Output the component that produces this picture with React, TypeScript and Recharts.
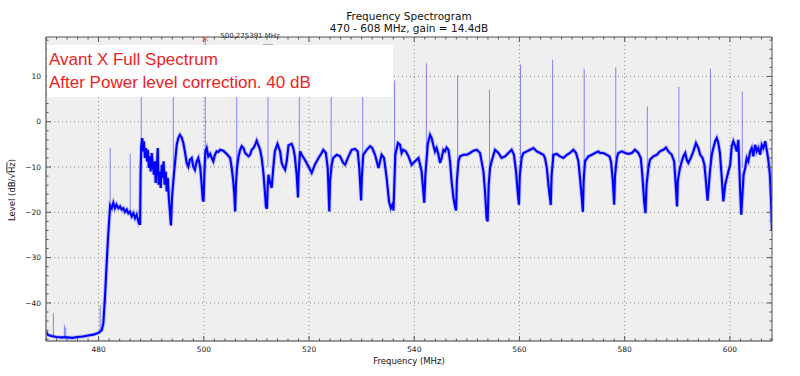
import React from 'react';
import { LineChart, Line, XAxis, YAxis, CartesianGrid, ReferenceDot } from 'recharts';

// ---- Spectrum trace, [MHz, dB] ----
const floorSegment: [number, number][] = [
  [470.0, -46.2], [470.3, -47.0], [471.0, -47.3], [471.5, -47.4], [472.0, -47.5], [473.0, -47.6], [474.0, -47.6],
  [475.0, -47.7], [476.0, -47.5], [477.0, -47.4], [478.0, -47.2], [479.0, -47.0], [480.0, -46.6], [480.6, -46.0],
  [480.9, -44.5], [481.2, -39.0], [481.5, -32.0], [481.8, -25.5], [482.05, -21.0], [482.2, -18.5],
];
const lowChannel: [number, number][] = [
  [482.5, -19.1], [482.8, -17.9], [483.1, -19.1], [483.4, -18.3], [483.76, -19.1], [484.07, -18.7], [484.39, -19.4],
  [484.7, -19.1], [485.0, -19.9], [485.34, -19.4], [485.66, -20.2], [485.97, -19.9], [486.29, -20.9], [486.6, -20.2],
  [486.92, -21.3], [487.24, -20.5], [487.56, -22.0], [487.75, -21.3], [487.88, -22.8], [487.98, -11.7],
];
const ch488: [number, number][] = [
  [488.1, -5.5], [488.3, -3.6], [488.45, -6.55], [488.6, -4.3], [488.8, -8.0], [489.0, -5.8], [489.2, -8.75],
  [489.35, -6.2], [489.55, -10.2], [489.75, -7.65], [489.9, -11.0], [490.1, -6.9], [490.3, -9.5], [490.5, -11.7],
  [490.7, -8.75], [490.85, -13.5], [491.05, -10.2], [491.25, -5.8], [491.4, -13.9], [491.6, -11.0], [491.8, -14.6],
  [492.0, -9.5], [492.2, -12.4], [492.35, -8.75], [492.55, -13.9], [492.75, -11.0], [492.95, -15.4], [493.15, -12.4],
  [493.35, -16.8], [493.55, -19.8], [493.75, -22.9], [493.95, -16.8],
];
const ch494: [number, number][] = [
  [494.3, -11.7], [494.55, -8.75], [494.85, -5.1], [495.15, -3.6], [495.45, -2.9], [495.8, -3.5], [496.1, -4.7],
  [496.4, -6.55], [496.75, -9.1], [497.05, -9.9], [497.35, -8.4], [497.7, -8.0], [498.0, -9.9], [498.3, -10.6],
  [498.65, -8.75], [498.95, -8.0], [499.3, -9.9], [499.6, -13.9], [499.8, -17.2], [499.95, -17.6], [500.1, -11.7],
];
const ch500: [number, number][] = [
  [500.3, -6.55], [500.55, -5.8], [500.85, -7.65], [501.2, -7.1], [501.5, -8.0], [501.8, -8.75], [502.1, -7.3],
  [502.45, -6.55], [502.75, -6.7], [503.1, -6.2], [503.7, -6.4], [504.35, -7.1], [505.0, -8.0], [505.3, -10.2],
  [505.6, -13.2], [505.8, -16.1], [505.95, -19.8], [506.1, -13.9],
];
const ch506: [number, number][] = [
  [506.3, -10.2], [506.6, -7.65], [506.9, -6.2], [507.2, -5.4], [507.55, -5.8], [507.85, -6.9], [508.2, -7.3],
  [508.5, -7.65], [508.8, -7.3], [509.1, -6.2], [509.45, -5.8], [509.75, -5.1], [510.05, -4.2], [510.35, -5.1],
  [510.7, -6.2], [511.0, -8.0], [511.3, -11.0], [511.6, -15.4], [511.8, -18.7], [512.0, -19.2], [512.15, -14.0],
];
const ch512: [number, number][] = [
  [512.3, -11.7], [512.6, -13.5], [512.9, -14.6], [513.2, -10.2], [513.5, -6.55], [514.0, -4.9], [514.5, -6.55],
  [514.8, -9.1], [515.1, -9.9], [515.45, -10.6], [515.75, -8.75], [516.1, -5.2], [516.7, -4.9], [517.0, -5.8],
  [517.3, -7.65], [517.65, -11.7], [517.9, -16.7], [518.0, -11.7],
];
const ch518: [number, number][] = [
  [518.3, -6.55], [518.6, -7.3], [519.2, -8.4], [519.9, -9.9], [520.5, -11.3], [521.1, -9.5], [521.8, -8.0],
  [522.4, -6.9], [522.7, -6.2], [523.2, -6.9], [523.55, -10.2], [523.85, -19.8], [524.0, -13.0],
];
const ch524: [number, number][] = [
  [524.3, -9.5], [524.6, -8.0], [525.25, -7.3], [525.9, -7.65], [526.5, -9.1], [526.85, -9.5], [527.5, -7.65],
  [528.1, -6.2], [528.75, -6.0], [529.25, -6.55], [529.55, -10.2], [529.9, -17.4], [530.05, -12.0],
];
const ch530: [number, number][] = [
  [530.3, -7.3], [530.95, -6.2], [531.6, -5.4], [532.0, -5.8], [532.55, -7.3], [533.2, -10.2], [533.5, -8.75],
  [533.8, -7.3], [534.25, -8.0], [534.75, -12.4], [535.2, -17.6], [535.55, -19.1], [535.9, -18.2], [536.05, -19.6],
];
const ch536: [number, number][] = [
  [536.4, -7.3], [536.9, -4.7], [537.3, -5.1], [537.6, -6.9], [537.9, -6.2], [538.4, -6.55], [538.9, -7.65],
  [539.5, -9.5], [540.15, -8.75], [540.8, -8.0], [541.1, -9.5], [541.4, -11.0], [541.9, -17.9], [542.1, -12.0],
];
const ch542: [number, number][] = [
  [542.55, -5.1], [543.0, -2.9], [543.3, -3.6], [543.6, -5.1], [543.95, -6.55], [544.25, -5.8], [544.6, -7.3],
  [544.9, -9.1], [545.2, -8.0], [545.55, -6.2], [545.85, -6.55], [546.15, -5.7], [546.5, -6.2], [546.8, -8.75],
  [547.1, -13.2], [547.45, -16.8], [547.75, -18.7], [547.95, -19.6], [548.1, -13.0],
];
const ch548: [number, number][] = [
  [548.4, -8.75], [548.7, -7.65], [549.35, -7.3], [550.0, -7.3], [550.6, -6.9], [551.25, -6.4], [551.9, -6.2],
  [552.5, -6.9], [552.8, -8.75], [553.15, -11.0], [553.45, -15.4], [553.75, -21.3], [553.95, -22.0], [554.15, -14.0],
];
const ch554: [number, number][] = [
  [554.4, -10.2], [554.7, -8.75], [555.35, -6.2], [556.0, -6.9], [556.6, -8.0], [557.25, -7.65], [557.9, -6.9],
  [558.5, -6.2], [558.95, -7.3], [559.35, -11.0], [559.65, -15.4], [559.9, -18.3], [560.05, -12.0],
];
const ch560: [number, number][] = [
  [560.4, -8.0], [560.75, -6.9], [561.4, -6.55], [562.0, -6.2], [562.65, -5.8], [563.3, -6.55], [563.9, -6.9],
  [564.55, -7.3], [564.85, -8.0], [565.2, -10.2], [565.5, -13.9], [565.95, -18.4], [566.1, -12.0],
];
const ch566: [number, number][] = [
  [566.45, -7.3], [567.1, -7.1], [567.7, -7.65], [568.35, -8.0], [569.0, -7.3], [569.6, -6.9], [570.25, -6.2],
  [570.75, -6.9], [571.2, -8.75], [571.5, -12.4], [571.85, -16.8], [572.05, -19.9], [572.2, -13.0],
];
const ch572: [number, number][] = [
  [572.45, -8.75], [573.1, -7.65], [573.75, -7.3], [574.35, -6.9], [575.0, -6.55], [575.3, -6.9], [575.95, -6.9],
  [576.6, -7.3], [577.1, -7.65], [577.4, -8.75], [577.75, -13.2], [578.0, -18.3], [578.15, -12.0],
];
const ch578: [number, number][] = [
  [578.5, -8.0], [578.8, -6.9], [579.45, -6.55], [580.1, -6.9], [580.7, -7.1], [581.35, -6.9], [581.95, -6.2],
  [582.6, -6.9], [583.05, -8.0], [583.35, -11.7], [583.7, -17.6], [583.95, -20.2], [584.15, -14.0],
];
const ch584: [number, number][] = [
  [584.5, -10.2], [584.8, -8.4], [585.45, -7.65], [586.1, -7.3], [586.7, -6.55], [587.35, -6.2], [587.85, -5.7],
  [588.3, -6.55], [588.95, -7.3], [589.4, -8.75], [589.7, -13.9], [589.95, -18.7], [590.1, -13.0],
];
const ch590: [number, number][] = [
  [590.5, -10.2], [590.85, -8.75], [591.15, -7.65], [591.5, -6.9], [591.8, -8.4], [592.1, -9.1], [592.55, -8.0],
  [593.05, -6.55], [593.55, -4.7], [594.0, -5.8], [594.35, -7.3], [594.8, -8.0], [595.15, -9.5], [595.45, -13.2],
  [595.75, -17.4], [596.0, -14.0], [596.2, -11.0],
];
const ch596: [number, number][] = [
  [596.55, -7.3], [596.85, -5.8], [597.2, -4.3], [597.5, -3.6], [597.8, -4.7], [598.1, -6.9], [598.45, -12.4],
  [598.75, -17.6], [599.1, -13.9], [599.4, -12.4], [599.7, -11.0], [600.05, -9.5], [600.35, -5.4], [600.65, -4.3],
  [601.0, -5.4], [601.3, -6.55], [601.6, -4.0], [601.95, -15.4], [602.15, -20.5],
];
const ch602: [number, number][] = [
  [602.6, -11.7], [602.9, -10.2], [603.2, -8.0], [603.5, -8.75], [603.85, -6.55], [604.15, -5.8], [604.45, -7.65],
  [604.8, -5.1], [605.1, -6.55], [605.4, -5.8], [605.75, -7.3], [606.05, -5.1], [606.35, -5.8], [606.7, -4.3],
  [607.0, -6.2], [607.3, -8.4], [607.6, -11.7], [607.8, -16.8], [608.0, -24.0],
];

// ---- Narrow carriers (spikes) ----
const spikeFreq = [471.4, 473.5, 473.75, 480.3, 482.2, 486.0, 488.1, 494.2, 500.27, 506.25, 512.2, 518.15, 524.2,
  530.2, 536.25, 542.3, 548.25, 554.3, 560.2, 566.3, 572.3, 578.3, 584.3, 590.3, 596.3, 602.35];
const spikeTop = [-42.2, -44.8, -45.5, -40.6, -5.8, -7.1, 12, 11, 18.3, 10, 10, 8, 9, 8, 9.1, 12.9, 10.2, 7.1,
  12.6, 13.7, 11.7, 12.0, 3.4, 7.7, 11.7, 6.7];
const spikeBase = [-47.3, -47.6, -47.6, -46.5, -20, -20, -8, -10, -8, -10, -10, -8, -9, -8, -8, -6, -9, -10, -8,
  -8, -9, -8, -10, -9, -9, -10];

const markerFreq = 500.275391;
const markerLevel = 18.3;

// ---- Axes ----
const xDomain: [number, number] = [470, 608];
const yDomain: [number, number] = [-48.4, 18.7];
const xMajor = [480, 500, 520, 540, 560, 580, 600];
const yMajor = [-40, -30, -20, -10, 0, 10];
const xTicks: number[] = [];
for (let v = 470; v <= 608; v += 2) xTicks.push(v);
const yTicks: number[] = [];
for (let v = -48; v <= 18; v += 2) yTicks.push(v);

const traceSegments = [floorSegment, lowChannel, ch488, ch494, ch500, ch506, ch512, ch518, ch524, ch530, ch536,
  ch542, ch548, ch554, ch560, ch566, ch572, ch578, ch584, ch590, ch596, ch602];
const traceData = traceSegments.flat().map(([f, v]) => ({ f, v }));
const spikeData = spikeFreq.flatMap((f, i) => [
  { f, s: spikeBase[i] as number | null },
  { f, s: spikeTop[i] as number | null },
  { f, s: null as number | null },
]);

const FONT = 'DejaVu Sans';
const TICK_COLOR = '#555';

const fmt = (v: number) => (v < 0 ? '\u2212' + Math.abs(v) : String(v));

const BottomTick = (p: any) => {
  const v = p.payload.value;
  const major = xMajor.includes(v);
  return (
    <g>
      <line x1={p.x} x2={p.x} y1={p.y} y2={p.y - (major ? 5 : 2.5)} stroke={TICK_COLOR} strokeWidth={1} />
      {major && (
        <text x={p.x} y={p.y + 10.5} textAnchor="middle" fontFamily={FONT} fontSize={7.5} fill="#222">
          {v}
        </text>
      )}
    </g>
  );
};
const TopTick = (p: any) => {
  const v = p.payload.value;
  const major = xMajor.includes(v);
  return <line x1={p.x} x2={p.x} y1={p.y} y2={p.y + (major ? 5 : 2.5)} stroke={TICK_COLOR} strokeWidth={1} />;
};
const LeftTick = (p: any) => {
  const v = p.payload.value;
  const major = yMajor.includes(v);
  return (
    <g>
      <line x1={p.x} x2={p.x + (major ? 5 : 2.5)} y1={p.y} y2={p.y} stroke={TICK_COLOR} strokeWidth={1} />
      {major && (
        <text x={p.x - 5} y={p.y + 2.7} textAnchor="end" fontFamily={FONT} fontSize={7.5} fill="#222">
          {fmt(v)}
        </text>
      )}
    </g>
  );
};
const RightTick = (p: any) => {
  const v = p.payload.value;
  const major = yMajor.includes(v);
  return <line x1={p.x} x2={p.x - (major ? 5 : 2.5)} y1={p.y} y2={p.y} stroke={TICK_COLOR} strokeWidth={1} />;
};

const MarkerShape = (p: any) => {
  const { cx, cy } = p;
  return (
    <g>
      <path
        d={`M${cx - 3},${cy - 2.5}L${cx + 3},${cy + 2.5}M${cx - 3},${cy + 2.5}L${cx + 3},${cy - 2.5}`}
        stroke="#ff5a5a"
        strokeWidth={1}
        fill="none"
      />
      <text x={cx + 15} y={cy - 0.5} fontFamily={FONT} fontSize={7} fill="#333">
        {markerFreq.toFixed(6)} MHz
      </text>
    </g>
  );
};

export default function App() {
  return (
    <div style={{ position: 'absolute', left: 0, top: 0, width: 800, height: 376, background: '#fff' }}>
      <LineChart width={800} height={376} data={traceData} margin={{ top: 0, right: 0, bottom: 0, left: 0 }}>
        <CartesianGrid
          stroke="#8a8a8a"
          strokeDasharray="1 3"
          fill="#efefef"
          horizontalValues={yMajor}
          verticalValues={xMajor}
        />
        <XAxis
          dataKey="f"
          type="number"
          domain={xDomain}
          allowDataOverflow
          ticks={xTicks}
          interval={0}
          tickSize={0}
          tickMargin={0}
          tick={<BottomTick />}
          height={35}
          axisLine={{ stroke: '#777', strokeWidth: 1.5 }}
        />
        <XAxis
          xAxisId="top"
          orientation="top"
          dataKey="f"
          type="number"
          domain={xDomain}
          allowDataOverflow
          ticks={xTicks}
          interval={0}
          tickSize={0}
          tickMargin={0}
          tick={<TopTick />}
          height={37}
          axisLine={{ stroke: '#555', strokeWidth: 1 }}
        />
        <YAxis
          type="number"
          domain={yDomain}
          allowDataOverflow
          ticks={yTicks}
          interval={0}
          tickSize={0}
          tickMargin={0}
          tick={<LeftTick />}
          width={46}
          axisLine={{ stroke: '#777', strokeWidth: 1.5 }}
        />
        <YAxis
          yAxisId="right"
          orientation="right"
          type="number"
          domain={yDomain}
          allowDataOverflow
          ticks={yTicks}
          interval={0}
          tickSize={0}
          tickMargin={0}
          tick={<RightTick />}
          width={28}
          axisLine={{ stroke: '#555', strokeWidth: 1 }}
        />
        <Line
          data={spikeData}
          dataKey="s"
          stroke="#3a3aff"
          strokeOpacity={0.6}
          strokeWidth={1}
          dot={false}
          connectNulls={false}
          isAnimationActive={false}
          type="linear"
        />
        <Line
          dataKey="v"
          stroke="#0000ff"
          strokeOpacity={0.22}
          strokeWidth={4}
          dot={false}
          isAnimationActive={false}
          type="linear"
        />
        <Line
          dataKey="v"
          stroke="#0000ff"
          strokeWidth={2.1}
          dot={false}
          isAnimationActive={false}
          type="linear"
        />
        <ReferenceDot x={markerFreq} y={markerLevel} r={3} shape={<MarkerShape />} ifOverflow="visible" />
      </LineChart>
      <svg
        width={800}
        height={376}
        style={{ position: 'absolute', left: 0, top: 0, pointerEvents: 'none' }}
      >
        <text x={409} y={19.5} textAnchor="middle" fontFamily={FONT} fontSize={10.5} fill="#111">
          Frequency Spectrogram
        </text>
        <text x={409} y={32} textAnchor="middle" fontFamily={FONT} fontSize={10.5} fill="#111">
          470 - 608 MHz, gain = 14.4dB
        </text>
        <text x={409} y={364} textAnchor="middle" fontFamily={FONT} fontSize={8.5} fill="#111">
          Frequency (MHz)
        </text>
        <text
          transform="translate(14.5,190) rotate(-90)"
          textAnchor="middle"
          fontFamily={FONT}
          fontSize={8.5}
          fill="#111"
        >
          Level (dB/{'\u221A'}
          <tspan textDecoration="overline">Hz</tspan>)
        </text>
        <rect x={263} y={44} width={10} height={2.5} fill="#aaa" />
        <rect x={47} y={45} width={346} height={52} fill="#ffffff" />
        <text x={49} y={65} fontFamily="Liberation Sans" fontSize={17} fill="#ee2222">
          Avant X Full Spectrum
        </text>
        <text x={49} y={87.5} fontFamily="Liberation Sans" fontSize={17} fill="#ee2222">
          After Power level correction. 40 dB
        </text>
      </svg>
    </div>
  );
}
